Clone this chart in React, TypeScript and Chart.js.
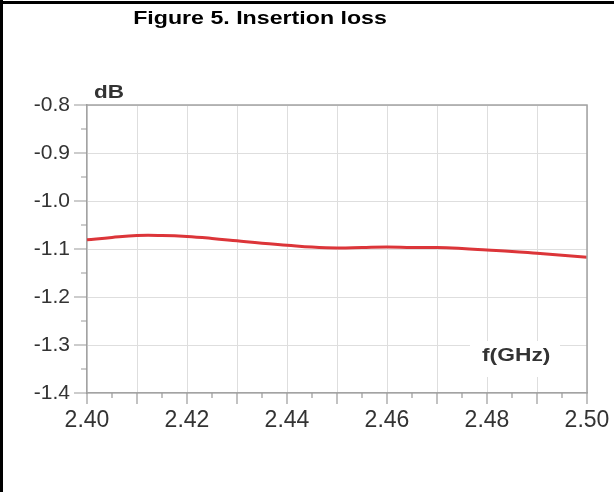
import React, { useEffect, useRef } from 'react';
import { Chart, registerables } from 'chart.js';

Chart.register(...registerables);

const chartTitle = 'Figure 5. Insertion loss';
const yAxisLabel = 'dB';
const xAxisLabel = 'f(GHz)';

const freqGHz = [2.4, 2.405, 2.41, 2.415, 2.42, 2.425, 2.43, 2.435, 2.44, 2.445, 2.45, 2.455, 2.46, 2.465, 2.47, 2.475, 2.48, 2.485, 2.49, 2.495, 2.5];
const insertionLossDb = [-1.081, -1.076, -1.072, -1.072, -1.074, -1.078, -1.083, -1.088, -1.092, -1.096, -1.098, -1.097, -1.096, -1.097, -1.097, -1.099, -1.102, -1.105, -1.109, -1.113, -1.117];

const xTickValues = [2.4, 2.41, 2.42, 2.43, 2.44, 2.45, 2.46, 2.47, 2.48, 2.49, 2.5];
const xLabelledTicks = ['2.40', '', '2.42', '', '2.44', '', '2.46', '', '2.48', '', '2.50'];
const xMinorTicks = [2.405, 2.415, 2.425, 2.435, 2.445, 2.455, 2.465, 2.475, 2.485, 2.495];
const yTickValues = [-1.4, -1.3, -1.2, -1.1, -1.0, -0.9, -0.8];
const yTickLabels = ['-1.4', '-1.3', '-1.2', '-1.1', '-1.0', '-0.9', '-0.8'];
const yMinorTicks = [-1.35, -1.25, -1.15, -1.05, -0.95, -0.85];

const FONT = "'Liberation Sans', Arial, Helvetica, sans-serif";
const AXIS_COLOR = '#a3a3a3';
const GRID_COLOR = '#dedede';
const TEXT_COLOR = '#333333';

function stretchedText(ctx: CanvasRenderingContext2D, text: string, x: number, y: number, size: number, sx: number, align: 'left' | 'center', color: string) {
  ctx.save();
  ctx.font = `bold ${size}px ${FONT}`;
  ctx.fillStyle = color;
  ctx.textBaseline = 'alphabetic';
  const w = ctx.measureText(text).width * sx;
  const left = align === 'center' ? x - w / 2 : x;
  ctx.translate(left, y);
  ctx.scale(sx, 1);
  ctx.textAlign = 'left';
  ctx.fillText(text, 0, 0);
  ctx.restore();
}

const decorPlugin = {
  id: 'decor',
  afterDraw(chart: any) {
    const ctx: CanvasRenderingContext2D = chart.ctx;
    const { left, right, top, bottom } = chart.chartArea;
    const xs = chart.scales.x;
    const ys = chart.scales.y;
    ctx.save();
    // plot frame (top, right)
    ctx.strokeStyle = AXIS_COLOR;
    ctx.lineWidth = 1.5;
    ctx.beginPath();
    ctx.moveTo(left, top);
    ctx.lineTo(right, top);
    ctx.lineTo(right, bottom);
    ctx.stroke();
    // tick marks
    ctx.lineWidth = 1.2;
    ctx.strokeStyle = '#9a9a9a';
    ctx.beginPath();
    xTickValues.forEach((v) => {
      const px = xs.getPixelForValue(v);
      ctx.moveTo(px, bottom);
      ctx.lineTo(px, bottom + 11);
    });
    xMinorTicks.forEach((v) => {
      const px = xs.getPixelForValue(v);
      ctx.moveTo(px, bottom);
      ctx.lineTo(px, bottom + 5);
    });
    yTickValues.forEach((v) => {
      const py = ys.getPixelForValue(v);
      ctx.moveTo(left - 13, py);
      ctx.lineTo(left, py);
    });
    yMinorTicks.forEach((v) => {
      const py = ys.getPixelForValue(v);
      ctx.moveTo(left - 6, py);
      ctx.lineTo(left, py);
    });
    ctx.stroke();
    // white box behind x-axis label
    ctx.fillStyle = '#ffffff';
    ctx.fillRect(470, 341, 90, 36);
    ctx.restore();

    stretchedText(ctx, xAxisLabel, 482, 361, 19, 1.2, 'left', TEXT_COLOR);
    stretchedText(ctx, yAxisLabel, 94, 98, 18, 1.25, 'left', TEXT_COLOR);
    stretchedText(ctx, chartTitle, 260, 24, 19, 1.22, 'center', '#000000');

    // figure border (left & top)
    ctx.save();
    ctx.fillStyle = '#000000';
    ctx.fillRect(0, 1, chart.width, 3);
    ctx.fillRect(0, 0, 3, chart.height);
    ctx.restore();
  },
};

export default function App() {
  const canvasRef = useRef<HTMLCanvasElement | null>(null);

  useEffect(() => {
    document.body.style.margin = '0';
    const canvas = canvasRef.current;
    if (!canvas) return;
    const chart = new Chart(canvas, {
      type: 'line',
      data: {
        datasets: [
          {
            label: 'Insertion loss',
            data: freqGHz.map((f, i) => ({ x: f, y: insertionLossDb[i] })),
            borderColor: '#dc3539',
            borderWidth: 3,
            pointRadius: 0,
            tension: 0.4,
            fill: false,
          },
        ],
      },
      options: {
        animation: false,
        responsive: false,
        maintainAspectRatio: false,
        layout: { padding: { top: 105, right: 27, left: 0, bottom: 0 } },
        plugins: {
          legend: { display: false },
          title: { display: false },
          tooltip: { enabled: false },
        },
        scales: {
          x: {
            type: 'linear',
            min: 2.4,
            max: 2.5,
            afterBuildTicks: (scale: any) => {
              scale.ticks = xTickValues.map((v) => ({ value: v }));
            },
            afterFit: (scale: any) => {
              scale.height = 99;
              scale.paddingLeft = 0;
              scale.paddingRight = 0;
            },
            ticks: {
              autoSkip: false,
              maxRotation: 0,
              minRotation: 0,
              padding: 14,
              color: TEXT_COLOR,
              font: { family: FONT, size: 23 },
              callback: (_v: any, index: number) => xLabelledTicks[index],
            },
            grid: { color: GRID_COLOR, lineWidth: 1, drawTicks: false },
            border: { color: AXIS_COLOR, width: 1.5 },
          },
          y: {
            type: 'linear',
            min: -1.4,
            max: -0.8,
            afterBuildTicks: (scale: any) => {
              scale.ticks = yTickValues.map((v) => ({ value: v }));
            },
            afterFit: (scale: any) => {
              scale.width = 87;
              scale.paddingTop = 0;
              scale.paddingBottom = 0;
            },
            ticks: {
              autoSkip: false,
              padding: 17,
              color: TEXT_COLOR,
              font: { family: FONT, size: 21 },
              callback: (_v: any, index: number) => yTickLabels[index],
            },
            grid: { color: GRID_COLOR, lineWidth: 1, drawTicks: false },
            border: { color: AXIS_COLOR, width: 1.5 },
          },
        },
      },
      plugins: [decorPlugin],
    } as any);
    return () => chart.destroy();
  }, []);

  return (
    <div style={{ width: 614, height: 492, background: '#ffffff' }}>
      <canvas ref={canvasRef} width={614} height={492} style={{ display: 'block' }} />
    </div>
  );
}
